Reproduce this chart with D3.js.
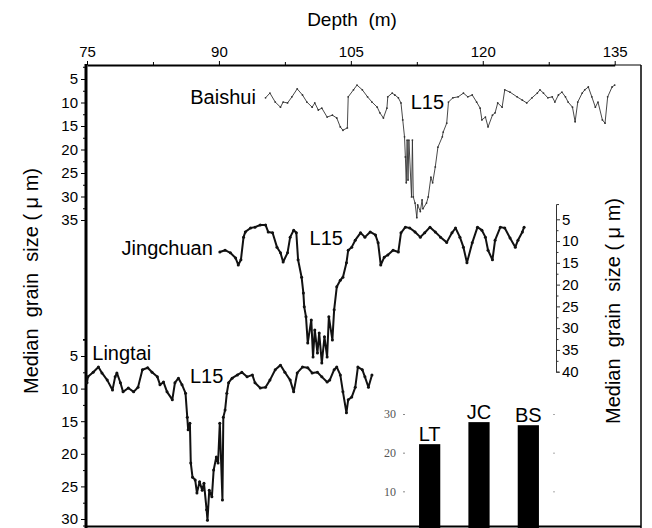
<!DOCTYPE html>
<html><head><meta charset="utf-8">
<script src="https://cdn.jsdelivr.net/npm/d3@7"></script>
<style>
body{margin:0;background:#fff}
svg{display:block}
text{font-family:Arial,"Liberation Sans",sans-serif}
</style>
</head><body>
<svg id="c" width="652" height="528"></svg>
<script>
// ---------------- data ----------------
const depthTicks = [75, 90, 105, 120, 135];
const depthMinorTicks = [82.5, 97.5, 112.5, 127.5];
const baishuiTicks = [5, 10, 15, 20, 25, 30, 35];
const lingtaiTicks = [5, 10, 15, 20, 25, 30];
const jingchuanTicks = [5, 10, 15, 20, 25, 30, 35, 40];
const barTicks = [0, 10, 20, 30];

const baishuiDepth = [95.3,95.8,96.4,97.0,97.3,97.8,98.3,98.9,99.5,100.0,100.6,100.9,101.3,101.7,102.3,102.9,103.4,103.8,104.1,104.6,104.7,105.3,105.7,106.3,106.9,107.4,108.0,108.3,108.7,109.1,109.2,109.7,110.0,110.4,110.7,110.9,111.1,111.2,111.3,111.4,111.5,111.6,111.9,112.0,112.1,112.3,112.5,112.6,112.9,113.1,113.2,113.6,113.8,114.1,114.3,114.6,114.9,115.4,115.5,115.9,116.1,116.6,117.2,117.8,118.3,118.8,119.3,119.7,119.9,120.3,120.6,121.1,121.4,121.7,122.2,122.5,123.1,123.9,124.5,125.0,125.6,126.2,126.5,126.9,127.4,127.9,128.2,128.6,129.0,129.4,129.7,130.2,130.5,130.8,131.3,131.6,132.0,132.4,132.8,133.1,133.6,133.9,134.2,134.7,135.0];
const baishuiSize = [9.0,8.0,9.9,11.0,9.9,10.1,8.8,7.1,8.4,9.9,11.0,10.1,11.6,11.2,13.1,12.7,13.3,15.2,15.9,15.4,8.8,7.3,6.3,7.3,8.8,9.9,11.0,12.2,13.3,11.2,8.8,8.0,8.4,9.0,10.1,13.7,17.3,21.6,27.1,18.0,26.5,18.0,30.1,18.0,30.1,31.4,34.5,31.8,33.2,30.7,32.6,31.4,30.1,25.9,27.1,23.7,19.5,17.3,16.3,14.4,9.9,9.0,8.8,8.0,8.8,8.4,9.9,11.2,13.7,13.1,15.2,12.7,12.2,10.1,11.0,7.3,7.8,8.8,9.5,10.1,9.0,8.0,7.3,8.0,9.0,8.8,9.9,8.4,7.8,8.8,9.9,11.0,14.1,9.9,8.0,7.3,6.7,8.8,11.0,9.9,13.7,14.4,8.8,6.7,6.3];

const jingchuanDepth = [90.1,90.7,91.3,91.9,92.2,92.5,92.8,93.0,93.6,94.1,94.7,95.3,95.6,96.1,96.6,97.0,97.3,97.8,98.1,98.5,98.8,99.0,99.4,99.6,99.7,99.9,100.1,100.5,100.7,100.9,101.2,101.4,101.7,102.0,102.3,102.5,102.9,103.1,103.4,103.8,104.1,104.5,104.7,105.1,105.5,106.1,106.6,107.2,107.8,108.1,108.4,108.8,109.2,109.8,110.4,110.7,111.2,111.7,112.3,112.9,113.4,114.0,114.6,115.2,115.9,116.5,116.9,117.4,117.8,118.2,118.8,119.4,119.9,120.3,120.6,121.1,121.4,122.0,122.5,123.1,123.7,124.0,124.5,124.7];
const jingchuanSize = [12.5,12.1,12.7,13.9,15.5,14.3,9.1,7.9,7.0,6.8,6.3,6.3,7.9,8.1,11.4,12.7,14.8,12.7,9.1,7.5,8.1,14.3,18.3,21.9,25.1,27.4,33.4,28.1,36.6,30.4,35.7,31.1,38.0,32.0,36.6,27.4,32.7,25.8,20.5,19.0,18.3,15.0,12.1,11.4,9.8,8.1,9.1,7.9,8.6,10.4,15.5,13.7,13.2,12.1,12.5,8.1,6.8,7.0,7.9,9.1,8.1,6.8,7.9,9.1,10.3,8.1,7.0,9.1,11.4,15.0,10.4,6.8,7.5,9.1,12.1,14.3,9.8,6.8,7.0,9.3,11.4,9.8,7.9,6.8];

const lingtaiDepth = [75.0,75.1,75.7,76.3,76.7,77.3,77.9,78.2,78.4,78.8,79.1,79.7,80.3,80.8,81.3,81.9,82.4,83.0,83.3,83.7,84.1,84.7,85.0,85.4,85.8,86.2,86.4,86.5,86.7,86.8,87.0,87.3,87.5,87.8,88.1,88.3,88.6,88.7,88.9,89.2,89.4,89.7,89.9,90.1,90.4,90.5,90.7,90.9,91.1,91.5,92.1,92.6,93.2,93.8,94.1,94.7,95.3,95.8,96.4,97.0,97.5,98.1,98.5,98.9,99.5,100.1,100.6,101.2,101.7,102.3,102.6,103.1,103.4,103.8,104.1,104.5,104.7,105.1,105.5,105.8,106.3,106.6,107.0,107.4];
const lingtaiSize = [9.1,8.2,7.5,6.7,7.6,8.7,10.2,8.2,7.6,9.1,10.5,9.9,10.5,9.8,7.1,6.8,7.5,8.2,9.4,9.0,10.5,11.7,9.1,8.4,9.4,10.7,14.4,16.3,15.3,21.4,23.6,24.0,26.0,24.3,25.6,24.5,28.6,30.2,25.6,26.6,22.5,20.5,21.4,15.3,27.1,14.4,13.3,10.7,9.1,8.4,7.9,7.5,8.2,7.9,9.1,9.9,9.8,8.7,7.1,6.4,7.5,8.7,10.5,7.6,6.7,6.8,7.6,7.5,8.2,9.0,8.7,7.1,6.7,7.9,10.5,13.7,11.7,11.3,9.8,6.7,7.1,8.2,9.8,7.9];

const barSites = ["LT", "JC", "BS"];
const barValues = [22.2, 27.9, 27.1];

// ---------------- scales ----------------
const svg = d3.select("#c");
const x = d3.scaleLinear().domain([75, 135]).range([87, 614.7]);
const yB = d3.scaleLinear().domain([5, 35]).range([79, 220]);
const yJ = d3.scaleLinear().domain([5, 40]).range([219.3, 371.7]);
const yL = d3.scaleLinear().domain([5, 30]).range([356, 519]);
const yBar = d3.scaleLinear().domain([0, 30]).range([530, 414]);
const xBar = d3.scaleBand().domain(barSites).range([405, 553]).paddingInner(0.57).paddingOuter(0.285);

const FRAME_L = 86, FRAME_R = 641, FRAME_T = 65, FRAME_B = 526.5;

function minorsOf(major){
  const out = [];
  for (let i = 0; i < major.length - 1; i++) out.push((major[i] + major[i+1]) / 2);
  return out;
}
function styleAxis(g, size){
  g.selectAll("text").attr("fill", "#000").style("font-size", size + "px")
   .style("font-family", "Arial, 'Liberation Sans', sans-serif");
  g.selectAll("line").attr("stroke", "#000");
  g.selectAll("path").attr("stroke", "#000");
}

// ---------------- inset bar chart ----------------
const inset = svg.append("g");
inset.selectAll("rect.bar").data(barSites).join("rect")
  .attr("class", "bar")
  .attr("x", d => xBar(d))
  .attr("width", xBar.bandwidth())
  .attr("y", (d, i) => yBar(barValues[i]))
  .attr("height", (d, i) => yBar(0) - yBar(barValues[i]))
  .attr("fill", "#000");
inset.selectAll("text.blab").data(barSites).join("text")
  .attr("class", "blab")
  .attr("x", d => xBar(d) + xBar.bandwidth() / 2)
  .attr("y", (d, i) => yBar(barValues[i]) - 3)
  .attr("text-anchor", "middle")
  .style("font-size", "20px")
  .text(d => d);
const insetAxisL = inset.append("g").attr("transform", "translate(405,0)")
  .call(d3.axisLeft(yBar).tickValues(barTicks).tickSize(2).tickPadding(7).tickSizeOuter(0)
    .tickFormat(d => d === 0 ? "" : d));
insetAxisL.select(".domain").remove();
insetAxisL.selectAll("line").attr("stroke", "#888");
insetAxisL.selectAll("text").attr("fill", "#555").style("font-size", "12px")
  .style("font-family", "'Liberation Serif','DejaVu Serif',serif");
const insetAxisR = inset.append("g").attr("transform", "translate(553,0)")
  .call(d3.axisRight(yBar).tickValues(barTicks).tickSize(2).tickFormat("").tickSizeOuter(0));
insetAxisR.select(".domain").remove();
insetAxisR.selectAll("line").attr("stroke", "#aaa");

// ---------------- frame ----------------
svg.append("line").attr("x1", x(135)).attr("x2", FRAME_R).attr("y1", FRAME_T).attr("y2", FRAME_T)
  .attr("stroke", "#000").attr("stroke-width", 1);
svg.append("line").attr("x1", FRAME_R).attr("x2", FRAME_R).attr("y1", FRAME_T).attr("y2", 528)
  .attr("stroke", "#000").attr("stroke-width", 1.5);
svg.append("line").attr("x1", FRAME_L).attr("x2", FRAME_R).attr("y1", FRAME_B).attr("y2", FRAME_B)
  .attr("stroke", "#000").attr("stroke-width", 2);
svg.append("line").attr("x1", FRAME_L).attr("x2", FRAME_L).attr("y1", FRAME_T - 1).attr("y2", 528)
  .attr("stroke", "#000").attr("stroke-width", 3);

// ---------------- top depth axis ----------------
const gx = svg.append("g").attr("transform", `translate(0,${FRAME_T})`)
  .call(d3.axisTop(x).tickValues(depthTicks).tickSize(4).tickPadding(4).tickSizeOuter(0).tickFormat(d3.format("d")));
styleAxis(gx, 15);
gx.select(".domain").attr("stroke-width", 2.2);
const gxm = svg.append("g").attr("transform", `translate(0,${FRAME_T})`)
  .call(d3.axisTop(x).tickValues(depthMinorTicks).tickSize(3).tickFormat(""));
gxm.select(".domain").remove();
gxm.selectAll("line").attr("stroke", "#000");
svg.append("text").attr("x", 352).attr("y", 26).attr("text-anchor", "middle")
  .style("font-size", "19px").attr("xml:space", "preserve").text("Depth  (m)");

// ---------------- left upper axis (Baishui) ----------------
const yBaxis = yB.copy().domain([2.4, 35]).range([yB(2.4), yB(35)]);
const gB = svg.append("g").attr("transform", `translate(${FRAME_L},0)`)
  .call(d3.axisLeft(yBaxis).tickValues(baishuiTicks).tickSize(5).tickPadding(3).tickSizeOuter(3));
styleAxis(gB, 15);
const gBm = svg.append("g").attr("transform", `translate(${FRAME_L},0)`)
  .call(d3.axisLeft(yB).tickValues(minorsOf(baishuiTicks)).tickSize(3).tickFormat(""));
gBm.select(".domain").remove(); gBm.selectAll("line").attr("stroke", "#000");

// ---------------- left lower axis (Lingtai) ----------------
const yLaxis = yL.copy().domain([2.4, 31]).range([yL(2.4), yL(31)]);
const gL = svg.append("g").attr("transform", `translate(${FRAME_L},0)`)
  .call(d3.axisLeft(yLaxis).tickValues(lingtaiTicks).tickSize(5).tickPadding(3).tickSizeOuter(3));
styleAxis(gL, 15);
const gLm = svg.append("g").attr("transform", `translate(${FRAME_L},0)`)
  .call(d3.axisLeft(yL).tickValues([2.5].concat(minorsOf(lingtaiTicks))).tickSize(3).tickFormat(""));
gLm.select(".domain").remove(); gLm.selectAll("line").attr("stroke", "#000");

// ---------------- right axis (Jingchuan) ----------------
const yJaxis = yJ.copy().domain([1.5, 40]).range([yJ(1.5), yJ(40)]);
const gJ = svg.append("g").attr("transform", "translate(556,0)")
  .call(d3.axisRight(yJaxis).tickValues(jingchuanTicks).tickSize(4).tickPadding(2).tickSizeOuter(3));
styleAxis(gJ, 15);
gJ.selectAll("path, line").attr("stroke", "#333");
const gJm = svg.append("g").attr("transform", "translate(556,0)")
  .call(d3.axisRight(yJ).tickValues(minorsOf(jingchuanTicks)).tickSize(2.5).tickFormat(""));
gJm.select(".domain").remove(); gJm.selectAll("line").attr("stroke", "#333");

// ---------------- axis titles ----------------
svg.append("text").attr("transform", "translate(38,281) rotate(-90)")
  .attr("text-anchor", "middle").style("font-size", "20px").attr("xml:space", "preserve")
  .text("Median  grain  size ( \u03bc m)");
svg.append("text").attr("transform", "translate(620,311) rotate(-90)")
  .attr("text-anchor", "middle").style("font-size", "20px").attr("xml:space", "preserve")
  .text("Median  grain  size ( \u03bc m)");

// ---------------- curves ----------------
function drawCurve(depths, vals, yScale, color, lw, r){
  const pts = depths.map((d, i) => [d, vals[i]]);
  svg.append("path").datum(pts)
    .attr("d", d3.line().x(p => x(p[0])).y(p => yScale(p[1])))
    .attr("fill", "none").attr("stroke", color).attr("stroke-width", lw)
    .attr("stroke-linejoin", "round");
  svg.append("g").selectAll("circle").data(pts).join("circle")
    .attr("cx", p => x(p[0])).attr("cy", p => yScale(p[1])).attr("r", r).attr("fill", color);
}
drawCurve(baishuiDepth, baishuiSize, yB, "#333", 0.9, 0.9);
drawCurve(jingchuanDepth, jingchuanSize, yJ, "#111", 2, 1.5);
drawCurve(lingtaiDepth, lingtaiSize, yL, "#111", 2, 1.5);

// ---------------- site labels ----------------
function label(txt, depth, val, yScale, anchor){
  svg.append("text").attr("x", x(depth)).attr("y", yScale(val))
    .attr("text-anchor", anchor).style("font-size", "20px").text(txt);
}
label("Baishui", 94.2, 10.4, yB, "end");
label("L15", 113.7, 11.4, yB, "middle");
label("Jingchuan", 89.3, 13.1, yJ, "end");
label("L15", 102.2, 10.9, yJ, "middle");
label("Lingtai", 75.6, 5.6, yL, "start");
label("L15", 88.6, 9.1, yL, "middle");
</script>
</body></html>
